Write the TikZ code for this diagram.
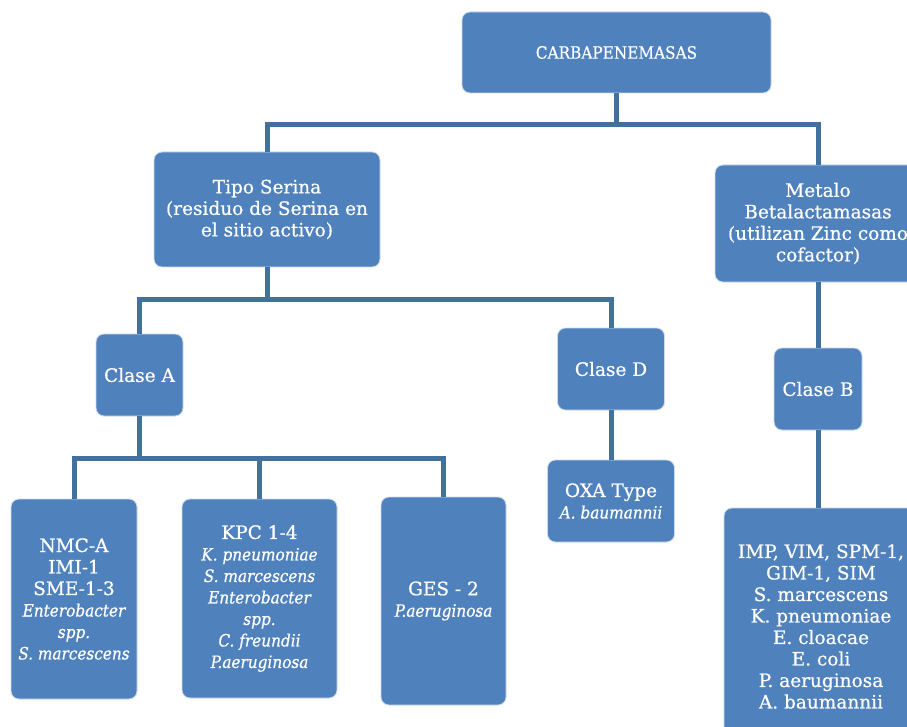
\documentclass[tikz,border=0pt]{standalone}
\usepackage{fontspec}
\setmainfont{DejaVu Serif}[FakeBold=0.6]
\newfontfamily\rootfont{DejaVu Serif Condensed}[FakeBold=0.6]
\newfontfamily\condfont{DejaVu Serif Condensed}[FakeBold=0.6]
\newcommand{\spcname}[1]{{\condfont\itshape\fontsize{17}{21.5}\selectfont #1}}
\definecolor{boxfill}{HTML}{4F81BD}
\definecolor{linec}{HTML}{41719C}
\begin{document}
\begin{tikzpicture}[x=1pt,y=-1pt,
  box/.style={draw=white!70!boxfill, line width=0.8pt, fill=boxfill, rounded corners=8pt,
    text=white, align=center, inner sep=0pt, font=\fontsize{18.5}{21.5}\selectfont},
  conn/.style={draw=linec, line width=5pt}]
\useasboundingbox (0,0) rectangle (907,727);
\node[box, minimum width=309pt, minimum height=81pt, font=\rootfont\fontsize{17}{21}\selectfont] (root) at (616.5,52.5) {CARBAPENEMASAS};
\node[box, minimum width=226pt, minimum height=115pt] (tipo) at (267,209.5) {Tipo Serina\\(residuo de Serina en\\el sitio activo)};
\node[box, minimum width=206pt, minimum height=117pt] (metalo) at (818,223.5) {Metalo\\Betalactamasas\\(utilizan Zinc como\\cofactor)};
\node[box, minimum width=87pt, minimum height=82pt] (claseA) at (139.5,375) {Clase A};
\node[box, minimum width=107pt, minimum height=82pt] (claseD) at (611,369) {Clase D};
\node[box, minimum width=88pt, minimum height=82pt] (claseB) at (818,389) {Clase B};
\node[box, minimum width=126pt, minimum height=200pt] (nmc) at (74,599) {NMC-A\\IMI-1\\SME-1-3\\\spcname{Enterobacter}\\\spcname{spp.}\\\spcname{S. marcescens}};
\node[box, minimum width=155pt, minimum height=199pt] (kpc) at (259.5,598.5) {KPC 1-4\\\spcname{K. pneumoniae}\\\spcname{S. marcescens}\\\spcname{Enterobacter}\\\spcname{spp.}\\\spcname{C. freundii}\\\spcname{P.aeruginosa}};
\node[box, minimum width=125pt, minimum height=208pt] (ges) at (443.5,601) {GES - 2\\\spcname{P.aeruginosa}};
\node[box, minimum width=127pt, minimum height=82pt] (oxa) at (611,501) {OXA Type\\\spcname{A. baumannii}};
\node[box, minimum width=194pt, minimum height=237pt] (big) at (821,626.5) {IMP, VIM, SPM-1,\\GIM-1, SIM\\S. marcescens\\K. pneumoniae\\E. cloacae\\E. coli\\P. aeruginosa\\A. baumannii};
% connectors
\draw[conn] (root.south) -- ++(0,31) coordinate (r1);
\draw[conn] (r1) -| (tipo.north);
\draw[conn] (r1) -| (metalo.north);
\draw[conn] (tipo.south) -- ++(0,32) coordinate (t1);
\draw[conn] (t1) -| (claseA.north);
\draw[conn] (t1) -| (claseD.north);
\draw[conn] (claseA.south) -- ++(0,42) coordinate (a1);
\draw[conn] (a1) -| (nmc.north);
\draw[conn] (a1) -| (kpc.north);
\draw[conn] (a1) -| (ges.north);
\draw[conn] (claseD.south) -- (oxa.north);
\draw[conn] (metalo.south) -- (claseB.north);
\draw[conn] (claseB.south) -- (claseB.south |- big.north);
\end{tikzpicture}
\end{document}
